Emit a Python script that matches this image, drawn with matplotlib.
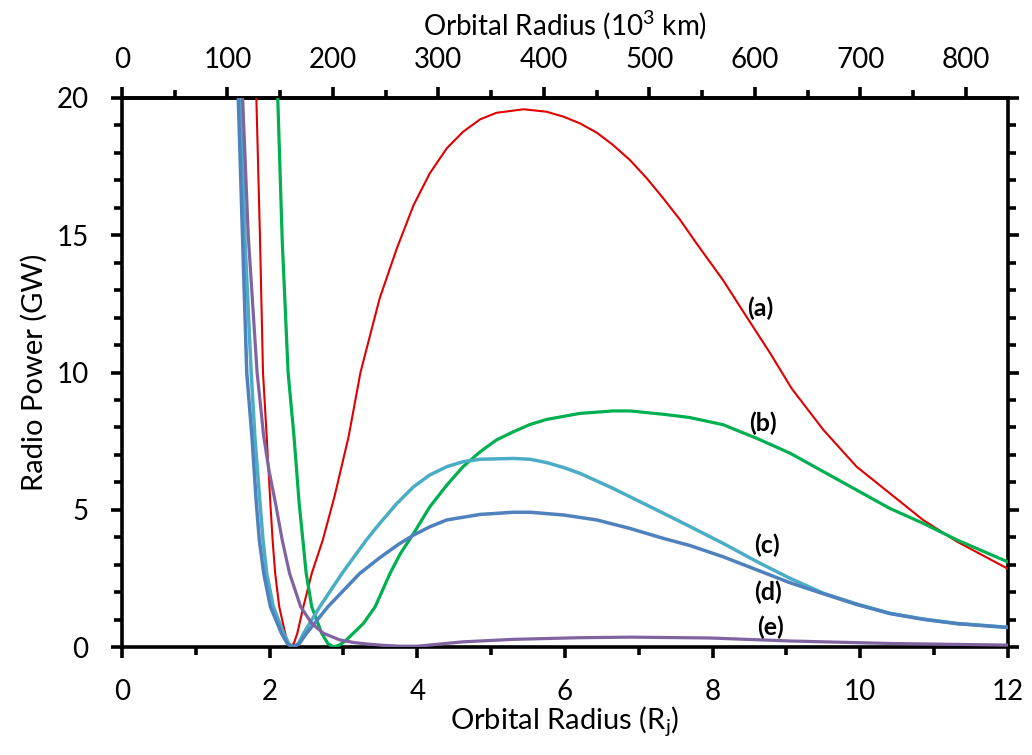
import matplotlib
matplotlib.use("Agg")
import matplotlib.pyplot as plt
from matplotlib.ticker import MultipleLocator, FixedLocator

plt.rcParams['font.family'] = ['Lato', 'DejaVu Sans']
plt.rcParams['mathtext.fontset'] = 'custom'
plt.rcParams['mathtext.rm'] = 'Lato'

# ---- data (x in Jupiter radii, y in GW) ----
a_x = [1.82, 1.87, 1.91, 1.96, 2.01, 2.04, 2.075, 2.13, 2.21, 2.25, 2.285, 2.33, 2.375, 2.457, 2.57,
       2.72, 2.88, 3.07, 3.23, 3.49, 3.72, 3.95, 4.17, 4.40, 4.62, 4.85, 5.07, 5.44, 5.75, 5.98,
       6.20, 6.43, 6.65, 6.88, 7.11, 7.33, 7.56, 7.78, 8.14, 8.46, 8.78, 9.07, 9.50, 9.95, 10.40,
       10.85, 11.31, 12.0]
a_y = [20.0, 14.83, 10.0, 7.67, 5.23, 3.90, 2.68, 1.47, 0.50, 0.15, 0.0, 0.15, 0.50, 1.47, 2.68,
       3.90, 5.5, 7.67, 10.0, 12.7, 14.5, 16.1, 17.26, 18.17, 18.77, 19.22, 19.46, 19.59, 19.50, 19.32,
       19.08, 18.74, 18.29, 17.74, 17.07, 16.35, 15.56, 14.71, 13.37, 12.03, 10.70, 9.42, 7.91, 6.57, 5.60,
       4.63, 3.84, 2.85]

b_x = [2.11, 2.17, 2.25, 2.33, 2.40, 2.45, 2.495, 2.57, 2.705, 2.79, 2.87, 2.95, 3.04, 3.27, 3.43,
       3.63, 3.77, 3.95, 4.17, 4.40, 4.62, 4.85, 5.07, 5.30, 5.53, 5.75, 6.20, 6.65, 6.88, 7.33,
       7.69, 8.14, 8.60, 9.05, 9.50, 9.95, 10.40, 10.85, 11.31, 12.0]
b_y = [20.0, 14.83, 10.0, 7.67, 5.23, 3.90, 2.68, 1.47, 0.50, 0.12, 0.0, 0.08, 0.26, 0.86, 1.47,
       2.68, 3.40, 4.14, 5.11, 5.90, 6.57, 7.11, 7.54, 7.84, 8.11, 8.29, 8.51, 8.60, 8.60, 8.48,
       8.36, 8.10, 7.60, 7.06, 6.39, 5.72, 5.05, 4.51, 3.90, 3.10]

c_x = [1.61, 1.666, 1.75, 1.80, 1.87, 1.91, 1.96, 2.05, 2.19, 2.26, 2.32, 2.39, 2.46, 2.68, 2.98,
       3.31, 3.49, 3.72, 3.95, 4.17, 4.40, 4.62, 4.85, 5.30, 5.53, 5.75, 5.98, 6.20, 6.65, 7.11,
       7.56, 8.14, 8.60, 9.05, 9.50, 9.95, 10.40, 10.85, 11.31, 12.0]
c_y = [20.0, 14.83, 10.0, 7.67, 5.23, 3.90, 2.68, 1.47, 0.50, 0.12, 0.0, 0.12, 0.50, 1.47, 2.68,
       3.90, 4.50, 5.22, 5.84, 6.27, 6.57, 6.75, 6.84, 6.87, 6.84, 6.72, 6.54, 6.33, 5.78, 5.17,
       4.57, 3.78, 3.11, 2.50, 1.96, 1.57, 1.23, 1.02, 0.86, 0.72]

d_x = [1.575, 1.634, 1.69, 1.76, 1.82, 1.86, 1.92, 2.01, 2.16, 2.24, 2.31, 2.40, 2.50, 2.79, 3.22,
       3.49, 3.75, 3.95, 4.17, 4.40, 4.85, 5.30, 5.53, 5.98, 6.43, 6.88, 7.33, 7.69, 8.14, 8.60,
       9.05, 9.50, 9.95, 10.40, 10.85, 11.31, 12.0]
d_y = [20.0, 14.83, 10.0, 7.67, 5.23, 3.90, 2.68, 1.47, 0.50, 0.12, 0.0, 0.12, 0.50, 1.47, 2.68,
       3.25, 3.75, 4.08, 4.38, 4.63, 4.83, 4.91, 4.91, 4.81, 4.63, 4.32, 3.96, 3.70, 3.29, 2.81,
       2.34, 1.94, 1.55, 1.22, 1.01, 0.85, 0.71]

e_x = [1.634, 1.71, 1.83, 1.92, 1.99, 2.08, 2.17, 2.27, 2.42, 2.57, 2.73, 2.95, 3.15, 3.32, 3.55,
       3.77, 4.00, 4.62, 5.30, 6.20, 6.88, 7.96, 9.05, 10.40, 12.0]
e_y = [20.0, 15.0, 10.0, 7.67, 6.45, 5.23, 3.90, 2.68, 1.47, 0.86, 0.50, 0.26, 0.16, 0.11, 0.06,
       0.03, 0.03, 0.19, 0.28, 0.34, 0.36, 0.33, 0.22, 0.13, 0.07]

curve_labels = ['(a)', '(b)', '(c)', '(d)', '(e)']
label_x = [8.64, 8.68, 8.74, 8.75, 8.79]
label_y = [12.35, 8.16, 3.72, 2.0, 0.73]

top_ticks = list(range(0, 801, 100))
top_minor = list(range(50, 851, 100))
KM_PER_RJ = 70.0  # 10^3 km per Jupiter radius (top axis scale)

fig = plt.figure(figsize=(10.32, 7.55), dpi=100)
ax = fig.add_axes([0.1182, 0.1430, 0.8585, 0.7272])

ax.plot(a_x, a_y, color='#E00000', lw=1.5, zorder=3)
ax.plot(b_x, b_y, color='#00B050', lw=2.3, zorder=4)
ax.plot(c_x, c_y, color='#4BACC6', lw=2.5, zorder=5)
ax.plot(d_x, d_y, color='#4F81BD', lw=2.5, zorder=6)
ax.plot(e_x, e_y, color='#8064A2', lw=2.3, zorder=7)

for t, x, y in zip(curve_labels, label_x, label_y):
    ax.text(x, y, t, fontsize=18, fontweight='bold', ha='center', va='center', zorder=10)

ax.set_xlim(0, 12)
ax.set_ylim(0, 20)
ax.xaxis.set_major_locator(MultipleLocator(2))
ax.xaxis.set_minor_locator(MultipleLocator(1))
ax.yaxis.set_major_locator(MultipleLocator(5))
ax.yaxis.set_minor_locator(MultipleLocator(1))

for sp in ax.spines.values():
    sp.set_linewidth(2.6)

ax.tick_params(axis='x', which='major', direction='out', length=8, width=2.6,
               labelsize=20, pad=15, top=False)
ax.tick_params(axis='x', which='minor', direction='out', length=6, width=2.6, top=False)
ax.tick_params(axis='y', which='major', direction='out', length=8, width=2.6,
               labelsize=20, pad=16, right=True)
ax.tick_params(axis='y', which='minor', direction='out', length=6, width=2.6, right=True)

ax.set_xlabel(r'Orbital Radius (R$_\mathregular{j}$)', fontsize=21, labelpad=0)
ax.set_ylabel('Radio Power (GW)', fontsize=21, labelpad=6)

sec = ax.secondary_xaxis('top', functions=(lambda r: r * KM_PER_RJ, lambda k: k / KM_PER_RJ))
sec.xaxis.set_major_locator(FixedLocator(top_ticks))
sec.xaxis.set_minor_locator(FixedLocator(top_minor))
sec.spines['top'].set_linewidth(2.6)
sec.tick_params(axis='x', which='major', direction='out', length=8, width=2.6,
                labelsize=20, pad=10)
sec.tick_params(axis='x', which='minor', direction='out', length=6, width=2.6)
sec.set_xlabel(r'Orbital Radius (10$^\mathregular{3}$ km)', fontsize=20, labelpad=8)

fig.savefig('out.png', dpi=100)
